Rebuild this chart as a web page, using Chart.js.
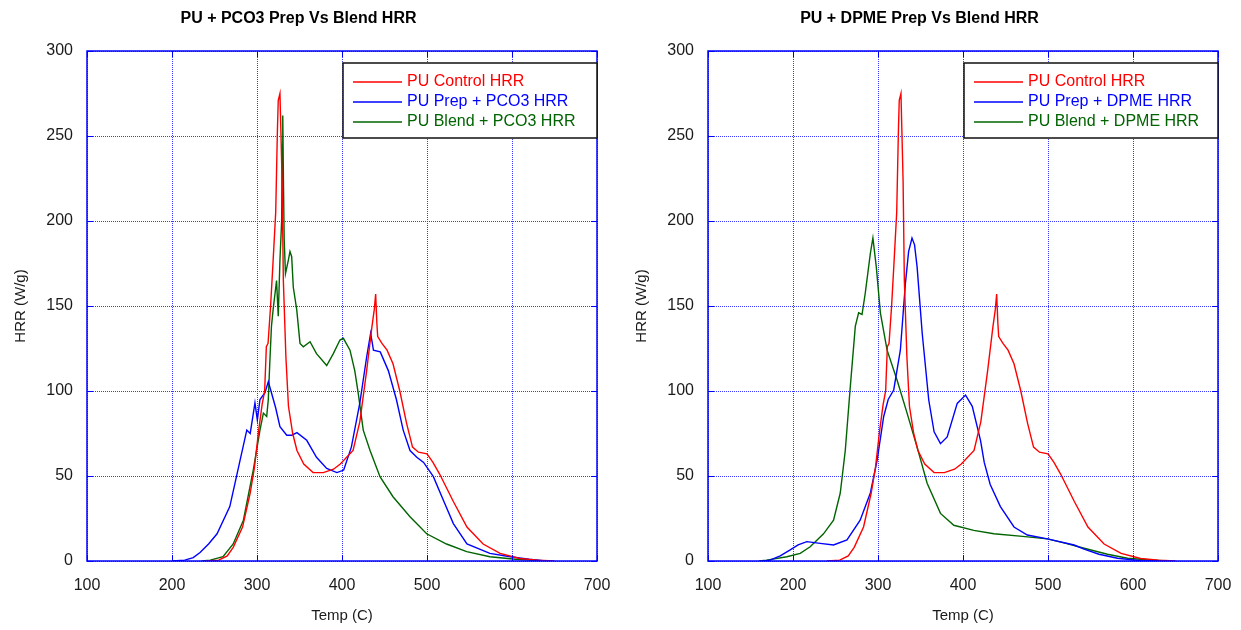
<!DOCTYPE html>
<html>
<head>
<meta charset="utf-8">
<script src="https://cdn.jsdelivr.net/npm/chart.js@4.4.1/dist/chart.umd.min.js"></script>
<style>
  body { margin: 0; background: #fff; }
  #wrap { position: relative; width: 1241px; height: 630px; }
  canvas { position: absolute; top: 0; }
</style>
</head>
<body>
<div id="wrap">
  <canvas id="pco3Chart" width="620" height="630" style="left:0"></canvas>
  <canvas id="dpmeChart" width="620" height="630" style="left:621px"></canvas>
</div>
<script>
// axis ticks
const tempTicks = [100, 200, 300, 400, 500, 600, 700];
const hrrTicks = [0, 50, 100, 150, 200, 250, 300];

// PU Control HRR (same run on both plots)
const ctrlTemp = [240, 255, 265, 272, 283, 292, 297, 302, 306, 309, 311, 313, 316, 319, 322, 324, 325, 327, 328, 329.5, 331, 334, 337, 342, 347, 355, 366, 378, 390, 398, 413, 421, 429, 435, 438, 439.6, 441, 442, 447, 453, 460, 468, 476, 483, 490, 500, 507, 515, 531, 547, 566, 586, 609, 630, 650];
const ctrlHrr = [0, 0.5, 3, 8, 20, 40, 55, 77, 92, 100, 126, 128, 150, 177, 205, 253, 271, 275, 255, 224, 165, 120, 91, 75, 65, 57, 52, 52, 54, 57, 65, 82, 112, 137, 148, 157, 140, 132, 128, 124, 116, 100, 81, 67, 64, 63, 58, 51, 35, 20, 10, 4.5, 1.5, 0.5, 0];

// PU Prep + PCO3 HRR
const pco3PrepTemp = [200, 215, 225, 233, 243, 253, 268, 280, 288, 292, 297.6, 300.4, 303.5, 309.4, 313.3, 317, 322, 327, 335, 341, 347, 358.5, 370, 382, 394, 402, 411, 421, 429, 433.7, 437, 445, 454.5, 464, 472, 480, 488, 496, 507.5, 519, 531, 547, 574, 598, 620, 640];
const pco3PrepHrr = [0, 0.5, 2, 5, 10, 16, 32, 59, 77, 75, 93, 83, 95, 99, 105.5, 99, 90, 79, 74, 74, 75.5, 71, 61, 54.5, 52, 53.5, 67, 93, 120, 134, 124, 123, 112, 95, 77, 65, 61, 58, 49.6, 36, 22, 10, 4.5, 2.5, 1, 0];

// PU Blend + PCO3 HRR
const pco3BlendTemp = [235, 245, 260, 272, 284, 295.6, 303.5, 307.5, 311.4, 313.3, 315, 317, 319, 323, 325, 327, 329, 329.7, 330.3, 331.2, 332, 333.5, 336.9, 338.8, 340.8, 342.7, 346.7, 350.6, 354.5, 362.4, 370, 382, 389.8, 397.6, 401.6, 409.4, 415, 419, 425, 433, 444.7, 460, 480, 499.6, 523, 546.7, 574, 604, 640];
const pco3BlendHrr = [0, 0.5, 2.5, 10, 24, 53.5, 77, 87, 85, 95, 116, 138, 148, 165, 144, 177, 200, 245, 262, 220, 189, 169, 177, 182, 179, 161, 148, 128, 126, 129, 122, 115, 122, 130, 131, 124, 112, 99, 77, 65, 49.6, 37.8, 26, 16, 10, 5.5, 2.5, 1, 0];

// PU Prep + DPME HRR
const dpmePrepTemp = [165, 173, 185, 196.7, 206, 216.3, 232, 247.7, 263.5, 279, 291, 298.9, 306.7, 312, 318.5, 326.3, 332.2, 336, 340, 343, 346, 352, 359.7, 366, 373.5, 381.4, 393.2, 403, 410.9, 420.6, 425, 432, 444, 460, 475.7, 499.3, 530.7, 542.5, 560, 581.8, 609, 630];
const dpmePrepHrr = [0, 0.5, 3, 6.5, 9.5, 11.4, 10.4, 9.4, 12.4, 24, 40, 59, 85, 95, 100.6, 124, 163, 182, 190, 186, 173, 134, 94.7, 76, 69, 73, 92.7, 97.6, 91, 71, 58, 45, 32, 20, 15.3, 13, 9.4, 7, 4, 1.6, 0.2, 0];

// PU Blend + DPME HRR
const dpmeBlendTemp = [160, 169, 192.8, 208.5, 220.2, 235.9, 247.7, 255.6, 261.5, 267.4, 273.3, 277.2, 281.2, 285, 291, 294, 298, 302.8, 310.7, 322.4, 334.2, 346, 357.8, 373.5, 389.2, 412.7, 436.3, 470, 499.3, 520, 542.5, 570, 593.6, 620, 641];
const dpmeBlendHrr = [0, 0.5, 2.5, 4.5, 8.4, 16, 24, 40, 65, 102.5, 138, 146, 145, 157.5, 181, 190, 173, 146, 124, 106.5, 87, 67, 45.7, 28, 21, 18, 16, 14.5, 13, 10.5, 7.5, 4, 1.6, 0.6, 0];

const FONT = "'Liberation Sans', Arial, sans-serif";

function points(xs, ys) {
  return xs.map((x, i) => ({ x: x, y: ys[i] }));
}

function series(label, xs, ys, color) {
  return {
    label: label,
    data: points(xs, ys),
    borderColor: color,
    backgroundColor: color,
    borderWidth: 1.4,
    pointRadius: 0,
    tension: 0,
    fill: false
  };
}

// solid blue frame with inward tick marks, plus the boxed legend inside the plot
const framePlugin = {
  id: "frame",
  afterDatasetsDraw(chart) {
    const { ctx, chartArea: a, scales } = chart;
    ctx.save();
    ctx.strokeStyle = "#0000ff";
    ctx.lineWidth = 1.5;
    ctx.strokeRect(a.left, a.top, a.right - a.left, a.bottom - a.top);
    ctx.lineWidth = 1;
    ctx.beginPath();
    tempTicks.forEach(t => {
      const px = Math.round(scales.x.getPixelForValue(t)) + 0.5;
      ctx.moveTo(px, a.bottom); ctx.lineTo(px, a.bottom - 6);
      ctx.moveTo(px, a.top); ctx.lineTo(px, a.top + 6);
    });
    hrrTicks.forEach(v => {
      const py = Math.round(scales.y.getPixelForValue(v)) + 0.5;
      ctx.moveTo(a.left, py); ctx.lineTo(a.left + 6, py);
      ctx.moveTo(a.right, py); ctx.lineTo(a.right - 6, py);
    });
    ctx.stroke();

    // legend
    const bx = a.right - 254, by = a.top + 12;
    ctx.fillStyle = "#fff";
    ctx.fillRect(bx, by, 254, 75);
    ctx.strokeStyle = "#111";
    ctx.lineWidth = 1.5;
    ctx.strokeRect(bx, by, 254, 75);
    ctx.font = "16px " + FONT;
    ctx.textBaseline = "middle";
    chart.data.datasets.forEach((ds, i) => {
      const ry = by + 19 + i * 20;
      ctx.strokeStyle = ds.borderColor;
      ctx.lineWidth = 1.4;
      ctx.beginPath();
      ctx.moveTo(bx + 10, ry); ctx.lineTo(bx + 59, ry);
      ctx.stroke();
      ctx.fillStyle = ds.borderColor;
      ctx.fillText(ds.label, bx + 64, ry);
    });
    ctx.restore();
  }
};

function hrrChart(id, title, datasets) {
  return new Chart(document.getElementById(id), {
    type: "line",
    data: { datasets: datasets },
    plugins: [framePlugin],
    options: {
      responsive: false,
      animation: false,
      devicePixelRatio: 1,
      layout: { padding: { left: 0, right: 23, top: 0, bottom: 0 } },
      plugins: {
        legend: { display: false },
        tooltip: { enabled: false },
        title: {
          display: true,
          text: title,
          color: "#000",
          font: { family: FONT, size: 16, weight: "bold" },
          padding: { top: 9, bottom: 22.8 }
        }
      },
      scales: {
        x: {
          type: "linear",
          min: 100,
          max: 700,
          afterFit: s => { s.height = 69; s.paddingLeft = 0; s.paddingRight = 0; },
          afterBuildTicks: s => { s.ticks = tempTicks.map(v => ({ value: v })); },
          ticks: { color: "#1a1a1a", font: { family: FONT, size: 16 }, padding: 15, maxRotation: 0 },
          grid: { color: "#3838ff", lineWidth: 1, drawTicks: false },
          border: { display: false, dash: [1, 1] },
          title: { display: true, text: "Temp (C)", color: "#1a1a1a", font: { family: FONT, size: 15 }, padding: { top: 0, bottom: 5 } }
        },
        y: {
          min: 0,
          max: 300,
          afterFit: s => { s.width = 87; s.paddingTop = 0; s.paddingBottom = 0; },
          afterBuildTicks: s => { s.ticks = hrrTicks.map(v => ({ value: v })); },
          ticks: { color: "#1a1a1a", font: { family: FONT, size: 16 }, padding: 14 },
          grid: { color: "#3838ff", lineWidth: 1, drawTicks: false },
          border: { display: false, dash: [1, 1] },
          title: { display: true, text: "HRR (W/g)", color: "#1a1a1a", font: { family: FONT, size: 15 }, padding: { top: 12, bottom: 0 } }
        }
      }
    }
  });
}

// Left: PCO3
hrrChart("pco3Chart", "PU + PCO3 Prep Vs Blend HRR", [
  series("PU Control HRR", ctrlTemp, ctrlHrr, "#ff0000"),
  series("PU Prep + PCO3 HRR", pco3PrepTemp, pco3PrepHrr, "#0000ff"),
  series("PU Blend + PCO3 HRR", pco3BlendTemp, pco3BlendHrr, "#006400")
]);

// Right: DPME
hrrChart("dpmeChart", "PU + DPME Prep Vs Blend HRR", [
  series("PU Control HRR", ctrlTemp, ctrlHrr, "#ff0000"),
  series("PU Prep + DPME HRR", dpmePrepTemp, dpmePrepHrr, "#0000ff"),
  series("PU Blend + DPME HRR", dpmeBlendTemp, dpmeBlendHrr, "#006400")
]);
</script>
</body>
</html>
